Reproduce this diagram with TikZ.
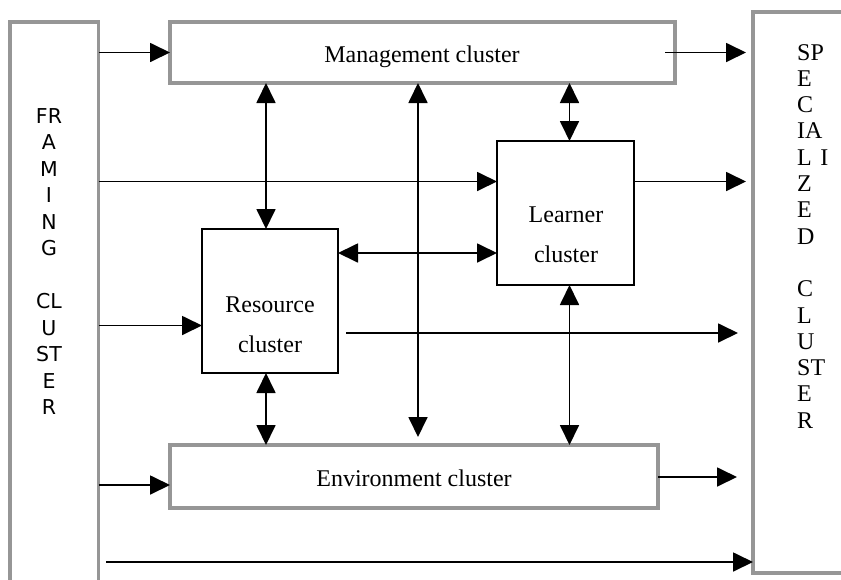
\documentclass[tikz,border=0pt]{standalone}
\usepackage{fontspec}
\setmainfont{Liberation Serif}
\newfontfamily\framesans{DejaVu Sans}
\usetikzlibrary{arrows.meta}
\definecolor{boxgray}{RGB}{150,150,150}
\begin{document}
\begin{tikzpicture}[x=1pt,y=-1pt,
  graybox/.style={draw=boxgray, line width=3.5pt, inner sep=0pt, outer sep=0pt},
  blackbox/.style={draw=black, line width=2pt, inner sep=0pt, outer sep=0pt},
  plainbox/.style={draw=none, inner sep=0pt, outer sep=0pt},
  arr/.style={line width=1.8pt, -{Triangle[length=20pt,width=19pt]}},
  dbl/.style={line width=1.8pt, {Triangle[length=20pt,width=19pt]}-{Triangle[length=20pt,width=19pt]}},
  lbl/.style={font=\fontsize{24}{26}\selectfont, inner sep=0pt, anchor=base},
  frmlbl/.style={font=\framesans\fontsize{20.5}{24}\selectfont, inner sep=0pt, anchor=base},
  speclbl/.style={font=\fontsize{24}{26}\selectfont, inner sep=0pt, anchor=base west}
]
\useasboundingbox (0,0) rectangle (841,579);

% outer clusters (open boxes)
\node[plainbox, minimum width=88.5pt, minimum height=578pt] (frm) at (54.25,311) {};
\draw[boxgray, line width=3.5pt] (frm.south west) -- (frm.north west) -- (frm.north east) -- (frm.south east);
\node[plainbox, minimum width=147pt, minimum height=561pt] (spec) at (826.5,292.5) {};
\draw[boxgray, line width=3.5pt] (spec.north east) -- (spec.north west) -- (spec.south west) -- (spec.south east);

% inner clusters
\node[graybox, minimum width=505pt, minimum height=61pt] (mgmt) at (422.5,52.5) {};
\node[graybox, minimum width=488pt, minimum height=63pt] (env) at (414,476.5) {};
\node[blackbox, minimum width=136pt, minimum height=144pt] (res) at (270,301) {};
\node[blackbox, minimum width=137pt, minimum height=144pt] (lrn) at (565.5,213) {};

% labels
\node[lbl] (mgmtT) at (422,62) {Management cluster};
\node[lbl] (envT) at (414,486) {Environment cluster};
\node[lbl] (resT1) at (270,312) {Resource};
\node[lbl] (resT2) at (270,352) {cluster};
\node[lbl] (lrnT1) at (566,222) {Learner};
\node[lbl] (lrnT2) at (566,262) {cluster};

\foreach \i/\t in {0/FR,1/A,2/M,3/I,4/N,5/G,7/CL,8/U,9/ST,10/E,11/R}
  \node[frmlbl] (frmT\i) at (49,123+26.5*\i) {\t};
\foreach \i/\t in {0/SP,1/E,2/C,3/IA,4/{L\hspace{8.5pt}I},5/Z,6/E,7/D,9/C,10/L,11/U,12/ST,13/E,14/R}
  \node[speclbl] (specT\i) at (797,60+26.3*\i) {\t};

% helper coordinates (rows and columns)
\coordinate (yLrn) at (0,181.5);
\coordinate (yRL) at (0,253);
\coordinate (yRes) at (0,325.5);
\coordinate (yLong) at (0,333);
\coordinate (yEnvIn) at (0,485);
\coordinate (yEnvOut) at (0,477);
\coordinate (yBot) at (0,562);
\coordinate (xA) at (266,0);
\coordinate (xB) at (418,0);
\coordinate (xC) at (569.5,0);

% horizontal connectors
\draw[arr] (frm.east |- mgmt.west) -- (mgmt.west);
\coordinate (mgmtOutS) at (665,52.5);
\coordinate (mgmtOutE) at (746,52.5);
\draw[arr] (mgmtOutS) -- (mgmtOutE);
\draw[arr] (frm.east |- yLrn) -- (lrn.west |- yLrn);
\coordinate (lrnOutE) at (746,181.5);
\draw[arr] (lrn.east |- yLrn) -- (lrnOutE);
\draw[dbl] (res.east |- yRL) -- (lrn.west |- yRL);
\draw[arr] (frm.east |- yRes) -- (res.west |- yRes);
\coordinate (longS) at (346,333);
\coordinate (longE) at (738,333);
\draw[arr] (longS) -- (longE);
\draw[arr] (frm.east |- yEnvIn) -- (env.west |- yEnvIn);
\coordinate (envOutE) at (737,477);
\draw[arr] (env.east |- yEnvOut) -- (envOutE);
\coordinate (botS) at (106,562);
\draw[arr] (botS) -- (spec.west |- yBot);

% vertical connectors
\draw[dbl] (mgmt.south -| xA) -- (res.north -| xA);
\draw[dbl] (res.south -| xA) -- (env.north -| xA);
\coordinate (midEnd) at (418,437);
\draw[dbl] (mgmt.south -| xB) -- (midEnd);
\draw[dbl] (mgmt.south -| xC) -- (lrn.north -| xC);
\draw[dbl] (lrn.south -| xC) -- (env.north -| xC);
\end{tikzpicture}
\end{document}
